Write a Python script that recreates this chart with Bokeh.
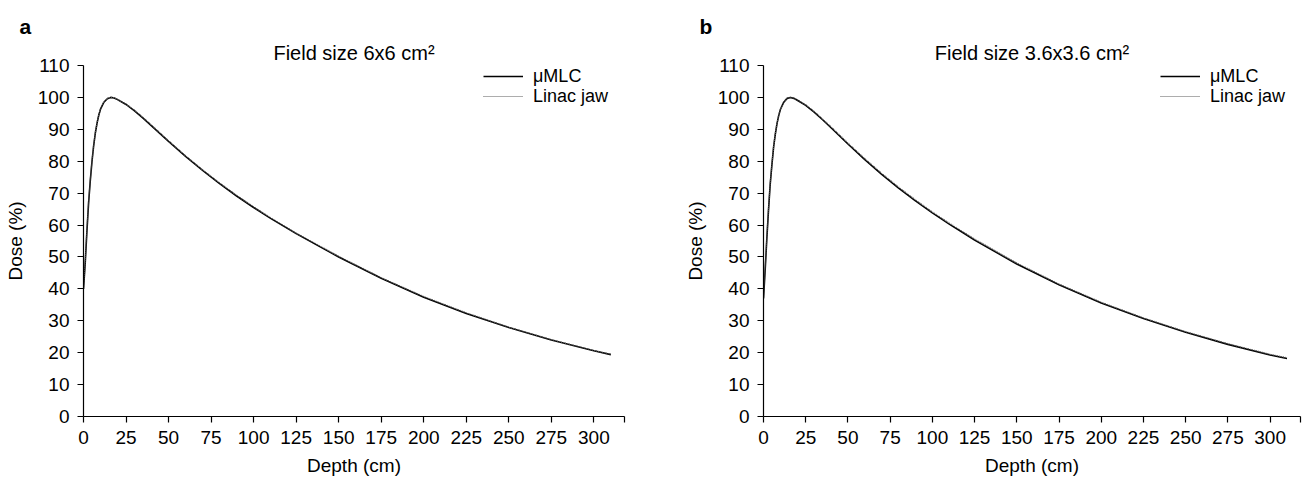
from bokeh.plotting import figure
from bokeh.models import Range1d, FixedTicker, Legend, LegendItem, Title
from bokeh.layouts import row
from bokeh.embed import file_html
from bokeh.resources import INLINE

# ---- data ----
depth = [0, 1, 2, 3, 4, 5, 6, 7, 8, 9, 10, 12, 14, 16, 18, 20, 25, 30, 35, 40,
         50, 60, 70, 80, 90, 100, 110, 125, 150, 175, 200, 225, 250, 275, 300, 310]

a_mlc = [40, 48, 58, 67, 74, 80, 85, 89, 92, 94.5, 96.3, 98.5, 99.6, 100, 99.8, 99.3,
         97.8, 95.8, 93.5, 91.1, 86.2, 81.5, 77.1, 73.0, 69.1, 65.5, 62.1, 57.3, 50.0,
         43.3, 37.4, 32.3, 27.9, 24.0, 20.6, 19.4]
a_jaw = [40.5, 48.6, 58.5, 67.4, 74.3, 80.2, 85.2, 89.1, 92.1, 94.6, 96.4, 98.6, 99.7, 100, 99.9, 99.4,
         97.9, 96.0, 93.7, 91.3, 86.4, 81.7, 77.3, 73.2, 69.3, 65.7, 62.3, 57.5, 50.2,
         43.5, 37.6, 32.5, 28.0, 24.1, 20.7, 19.5]

b_mlc = [37, 46, 56, 65, 73, 79, 84.5, 88.5, 91.8, 94.3, 96.2, 98.5, 99.7, 100, 99.7, 99.1,
         97.5, 95.4, 93.0, 90.5, 85.4, 80.5, 75.9, 71.6, 67.6, 63.8, 60.3, 55.3, 47.8,
         41.3, 35.6, 30.7, 26.4, 22.6, 19.3, 18.2]
b_jaw = [37.6, 46.6, 56.5, 65.4, 73.3, 79.2, 84.7, 88.7, 91.9, 94.4, 96.3, 98.6, 99.8, 100, 99.8, 99.3,
         97.7, 95.6, 93.2, 90.8, 85.7, 80.8, 76.2, 71.9, 67.9, 64.1, 60.6, 55.6, 48.1,
         41.5, 35.8, 30.9, 26.6, 22.8, 19.5, 18.4]

x_ticks = [0, 25, 50, 75, 100, 125, 150, 175, 200, 225, 250, 275, 300, 318]
x_tick_labels = {318: ""}
y_ticks = [0, 10, 20, 30, 40, 50, 60, 70, 80, 90, 100, 110]

titles = ["Field size 6x6 cm\u00b2", "Field size 3.6x3.6 cm\u00b2"]
letters = ["a", "b"]
series_names = ["\u03bcMLC", "Linac jaw"]

FONT = "Liberation Sans"


def styled_legend(item, x, y):
    lg = Legend(items=[item], location=(x, y))
    lg.border_line_color = None
    lg.background_fill_alpha = 0
    lg.padding = 0
    lg.margin = 0
    lg.spacing = 0
    lg.glyph_width = 40
    lg.glyph_height = 20
    lg.label_height = 22
    lg.label_standoff = 10
    lg.label_text_font = FONT
    lg.label_text_font_size = "18px"
    lg.label_text_color = "black"
    return lg


def make_panel(mlc, jaw, title, letter, left_border, right_border, width, legend_x):
    p = figure(width=width, height=478, output_backend="svg", toolbar_location=None,
               title=None,
               x_range=Range1d(0, 318), y_range=Range1d(0, 110),
               min_border_left=left_border, min_border_right=right_border,
               min_border_top=65, min_border_bottom=60)
    p.outline_line_color = None
    p.grid.visible = False
    p.background_fill_color = "white"
    p.border_fill_color = "white"

    t_main = Title(text=title, align="center", text_font=FONT, text_font_size="20px",
                   text_font_style="normal", text_color="black", standoff=4)
    p.add_layout(t_main, "above")
    t_letter = Title(text=letter, align="left", offset=-64, text_font=FONT,
                     text_font_size="21px", text_font_style="bold", text_color="black",
                     standoff=0)
    p.add_layout(t_letter, "above")

    for ax in (p.xaxis[0], p.yaxis[0]):
        ax.axis_line_color = "black"
        ax.axis_line_width = 1.2
        ax.major_tick_line_color = "black"
        ax.major_tick_line_width = 1.2
        ax.major_tick_out = 6
        ax.major_tick_in = 0
        ax.minor_tick_line_color = None
        ax.major_label_text_font = FONT
        ax.major_label_text_font_size = "19px"
        ax.major_label_text_color = "black"
        ax.axis_label_text_font = FONT
        ax.axis_label_text_font_size = "19px"
        ax.axis_label_text_font_style = "normal"
        ax.axis_label_text_color = "black"

    p.xaxis.ticker = FixedTicker(ticks=x_ticks)
    p.xaxis.major_label_overrides = x_tick_labels
    p.yaxis.ticker = FixedTicker(ticks=y_ticks)
    p.xaxis.axis_label = "Depth (cm)"
    p.yaxis.axis_label = "Dose (%)"
    p.xaxis.major_label_standoff = 8
    p.yaxis.major_label_standoff = 8
    p.xaxis.axis_label_standoff = 8
    p.yaxis.axis_label_standoff = 9

    r1 = p.line(depth, mlc, line_color="black", line_width=1.6)
    r2 = p.line(depth, jaw, line_color="#5a5a5a", line_width=1.2, line_dash="1 1")

    p.add_layout(styled_legend(LegendItem(label=series_names[0], renderers=[r1]),
                               legend_x, 329), "center")
    p.add_layout(styled_legend(LegendItem(label=series_names[1], renderers=[r2]),
                               legend_x, 309), "center")
    return p


pa = make_panel(a_mlc, a_jaw, titles[0], letters[0], 83, 29, 653, 400)
pb = make_panel(b_mlc, b_jaw, titles[1], letters[1], 110, 2, 649, 397)

layout = row(pa, pb)
open("out.html", "w").write(file_html(layout, INLINE))
